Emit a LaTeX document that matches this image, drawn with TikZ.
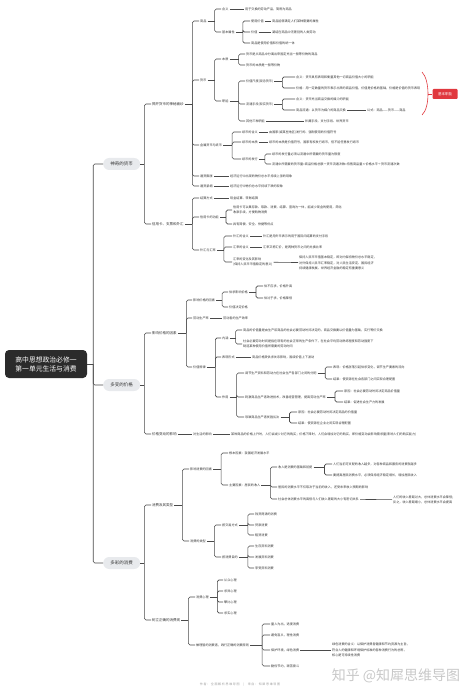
\documentclass[tikz,border=0pt]{standalone}
\usepackage{fontspec}
\setmainfont{Noto Sans CJK SC}
\definecolor{ink}{HTML}{333333}
\definecolor{wire}{HTML}{4A4A4A}
\definecolor{pill}{HTML}{E8EAED}
\definecolor{rootbg}{HTML}{2B2B2B}
\definecolor{tagred}{HTML}{E0383E}
\definecolor{mark}{HTML}{C8C8C8}
\newcommand\fs{\fontsize{3.1}{5.6}\selectfont}
\newcommand\fl{\fontsize{3.5}{5.6}\selectfont}

\tikzset{
  leaf/.style={anchor=west, inner sep=1pt, font=\fs, text=ink, align=left},
  sub/.style={leaf, font=\fl},
  topic/.style={anchor=west, fill=pill, rounded corners=6pt, minimum width=37pt,
    minimum height=12pt, inner sep=0pt, font=\fontsize{4.5}{5}\selectfont, text=ink},
  rootbox/.style={fill=rootbg, text=white, rounded corners=4pt, minimum width=82pt,
    minimum height=28pt, align=center, font=\fontsize{6.8}{9}\selectfont},
  link/.style={draw=wire, line width=0.6pt, rounded corners=1.6pt},
  redlink/.style={draw=tagred, line width=0.6pt},
  tag/.style={fill=tagred, text=white, rounded corners=1pt, minimum width=25pt,
    minimum height=10pt, inner sep=0pt, font=\fontsize{3.5}{4}\selectfont},
}

% parent -> fork -> children
\newcommand\fork[3]{%
  \draw[link] (#1.east) -- ++(#2,0) coordinate (#1f);
  \foreach \kid in {#3} {\draw[link] (#1f) |- (\kid.west);}
}

\begin{document}
\begin{tikzpicture}[x=1pt,y=-1pt]
\useasboundingbox (0,0) rectangle (474,692);

% root and topics
\node[rootbox] (root) at (46,364) {高中思想政治必修一\\第一单元生活与消费};
\node[topic] (money) at (103,164) {神奇的货币};
\node[topic] (price) at (103,385) {多变的价格};
\node[topic] (spend) at (103,563) {多彩的消费};
\fork{root}{6}{money,price,spend}

% ---------- 神奇的货币 ----------
\node[sub] (unveil) at (151,104) {揭开货币的神秘面纱};
\node[sub] (credit) at (151,224) {信用卡、支票和外汇};
\fork{money}{4}{unveil,credit}

\node[leaf] (goods) at (199,21) {商品};
\node[leaf] (coin) at (199,80) {货币};
\node[leaf] (paper) at (199,145) {金属货币与纸币};
\node[leaf] (infl) at (199,176) {通货膨胀};
\node[leaf] (defl) at (199,186) {通货紧缩};
\fork{unveil}{7.5}{goods,coin,paper,infl,defl}

\node[leaf] (gdef) at (221,9) {含义};
\node[leaf] (gdeftx) at (244,9) {用于交换的劳动产品，简称为商品};
\draw[link] (gdef) -- (gdeftx);
\node[leaf] (gattr) at (221,32) {基本属性};
\fork{goods}{7}{gdef,gattr}
\node[leaf] (guse) at (250,21) {使用价值};
\node[leaf] (gusetx) at (271,21) {商品能够满足人们某种需要的属性};
\draw[link] (guse) -- (gusetx);
\node[leaf] (gval) at (250,32) {价值};
\node[leaf] (gvaltx) at (271,32) {凝结在商品中无差别的人类劳动};
\draw[link] (gval) -- (gvaltx);
\node[leaf] (gunity) at (250,43) {商品是使用价值和价值的统一体};
\fork{gattr}{7}{guse,gval,gunity}

\node[leaf] (cess) at (221,59) {本质};
\node[leaf] (cfunc) at (221,101) {职能};
\fork{coin}{7}{cess,cfunc}
\node[leaf] (cess1) at (245,54) {货币是从商品中分离出来固定充当一般等价物的商品};
\node[leaf] (cess2) at (245,65) {货币的本质是一般等价物};
\fork{cess}{9}{cess1,cess2}
\node[leaf] (measure) at (245,81) {价值尺度(观念货币)};
\node[leaf] (medium) at (245,104) {流通手段(现实货币)};
\node[leaf] (others) at (245,121) {其他三种职能};
\node[leaf] (otherstx) at (304,121) {贮藏手段、支付手段、世界货币};
\draw[link] (others) -- (otherstx);
\fork{cfunc}{9}{measure,medium,others}
\node[leaf] (meas1) at (295,77) {含义：货币具有表现和衡量其他一切商品价值大小的职能};
\node[leaf] (meas2) at (295,88) {价格：用一定数量的货币表示出来的商品价值，价值是价格的基础，价格是价值的货币表现};
\fork{measure}{8}{meas1,meas2}
\node[leaf] (med1) at (295,99) {含义：货币充当商品交换的媒介的职能};
\node[leaf] (med2) at (295,110) {商品流通：以货币为媒介的商品交换};
\node[leaf] (formula) at (366,110) {公式：商品——货币——商品};
\draw[link] (med2) -- (formula);
\fork{medium}{8}{med1,med2}

% summary brace
\node[tag] (basic) at (445,94) {基本职能};
\draw[redlink] (422,72) .. controls (430,80) and (430,108) .. (422,115);
\coordinate (bracemid) at (428,94);
\draw[redlink] (bracemid) -- (basic.west);

\node[leaf] (pdef) at (241,132) {纸币的含义};
\node[leaf] (pdeftx) at (268,132) {由国家(或某些地区)发行的、强制使用的价值符号};
\draw[link] (pdef) -- (pdeftx);
\node[leaf] (pnat) at (241,142) {纸币的本质};
\node[leaf] (pnattx) at (268,142) {纸币的本质是价值符号，国家有权发行纸币，但不能任意发行纸币};
\draw[link] (pnat) -- (pnattx);
\node[leaf] (pissue) at (241,159) {纸币的发行};
\fork{paper}{9}{pdef,pnat,pissue}
\node[leaf] (piss1) at (271,154) {纸币的发行量必须以流通中所需要的货币量为限度};
\node[leaf] (piss2) at (271,164) {流通中所需要的货币量=商品价格总额÷货币流通次数=待售商品量×价格水平÷货币流通次数};
\fork{pissue}{6}{piss1,piss2}

\node[leaf] (infltx) at (229,176) {经济运行中出现的物价总水平持续上涨的现象};
\draw[link] (infl) -- (infltx);
\node[leaf] (defltx) at (229,186) {经济运行中物价总水平持续下跌的现象};
\draw[link] (defl) -- (defltx);

\node[leaf] (settle) at (199,198) {结算方式};
\node[leaf] (settletx) at (229,198) {现金结算、转账结算};
\draw[link] (settle) -- (settletx);
\node[leaf] (card) at (199,217) {信用卡的功能};
\node[leaf] (forex) at (199,250) {外汇与汇率};
\fork{credit}{7.5}{settle,card,forex}
\node[leaf] (card1) at (232,210) {信用卡可以集存款、取款、消费、结算、查询为一体，能减少现金的使用，简化\\收款手续，方便购物消费};
\node[leaf] (card2) at (232,224) {具有简便、安全、快捷等优点};
\fork{card}{6}{card1,card2}
\node[leaf] (fxdef) at (232,236) {外汇的含义};
\node[leaf] (fxdeftx) at (262,236) {外汇是用外币表示的用于国际间结算的支付手段};
\draw[link] (fxdef) -- (fxdeftx);
\node[leaf] (rate) at (232,247) {汇率的含义};
\node[leaf] (ratetx) at (262,247) {汇率又称汇价，是两种货币之间的兑换比率};
\draw[link] (rate) -- (ratetx);
\node[leaf] (ratechg) at (232,262) {汇率的变化及其影响\\(保持人民币币值稳定的意义)};
\node[leaf] (ratechgtx) at (298,263) {保持人民币币值基本稳定，即对内保持物价总水平稳定，\\对外保持人民币汇率稳定，对人民生活安定、国民经济\\持续健康发展、世界经济金融的稳定有重要意义};
\draw[link] (ratechg) -- (ratechgtx);
\fork{forex}{7}{fxdef,rate,ratechg}

% ---------- 多变的价格 ----------
\node[sub] (factor) at (151,333) {影响价格的因素};
\node[sub] (effect) at (151,434) {价格变动的影响};
\fork{price}{4}{factor,effect}

\node[leaf] (pfactor) at (192,300) {影响价格的因素};
\node[leaf] (prod) at (192,318) {劳动生产率};
\node[leaf] (prodtx) at (222,318) {劳动者的生产效率};
\draw[link] (prod) -- (prodtx);
\node[leaf] (law) at (192,367) {价值规律};
\fork{factor}{8.5}{pfactor,prod,law}

\node[leaf] (supply) at (228,292) {供求影响价格};
\node[leaf] (vdecide) at (228,307) {价值决定价格};
\fork{pfactor}{6}{supply,vdecide}
\node[leaf] (sup1) at (263,286) {供不应求，价格升高};
\node[leaf] (sup2) at (263,298) {供过于求，价格降低};
\fork{supply}{7}{sup1,sup2}

\node[leaf] (core) at (221,338) {内涵};
\node[leaf] (form) at (221,357) {表现形式};
\node[leaf] (formtx) at (251,357) {商品价格受供求关系影响，围绕价值上下波动};
\draw[link] (form) -- (formtx);
\node[leaf] (role) at (221,397) {作用};
\fork{law}{8.5}{core,form,role}
\node[leaf] (core1) at (242,330) {商品的价值量是由生产该商品的社会必要劳动时间决定的，商品交换要以价值量为基础，实行等价交换};
\node[leaf] (core2) at (242,344) {社会必要劳动时间是指在现有的社会正常的生产条件下，在社会平均劳动熟练程度和劳动强度下\\制造某种使用价值所需要的劳动时间};
\fork{core}{6}{core1,core2}
\node[leaf] (role1) at (244,373) {调节生产资料和劳动力在社会生产各部门之间的分配};
\node[leaf] (role2) at (244,397) {刺激商品生产者改进技术，改善经营管理，提高劳动生产率};
\node[leaf] (role3) at (244,417) {导致商品生产者优胜劣汰};
\fork{role}{7}{role1,role2,role3}
\node[leaf] (role11) at (332,367) {表现：价格涨落引起供求变化，调节生产要素的流向};
\node[leaf] (role12) at (332,379) {结果：使资源在社会各部门之间实现合理配置};
\fork{role1}{7.5}{role11,role12}
\node[leaf] (role21) at (343,391) {原因：社会必要劳动时间决定商品价值量};
\node[leaf] (role22) at (343,402) {结果：促进社会生产力的发展};
\fork{role2}{8}{role21,role22}
\node[leaf] (role31) at (297,412) {原因：社会必要劳动时间决定商品的价值量};
\node[leaf] (role32) at (297,423) {结果：使资源在企业之间实现合理配置};
\fork{role3}{9}{role31,role32}

\node[leaf] (life) at (192,434) {对生活的影响};
\draw[link] (effect) -- (life);
\node[leaf] (lifetx) at (230,434) {某种商品的价格上升时，人们会减少对它的购买；价格下降时，人们会增加对它的购买，即价格变动会影响需求量(影响人们的购买能力)};
\draw[link] (life) -- (lifetx);

% ---------- 多彩的消费 ----------
\node[sub] (types) at (151,505) {消费及其类型};
\node[sub] (view) at (151,620) {树立正确的消费观};
\fork{spend}{4}{types,view}

\node[leaf] (cfactor) at (189,469) {影响消费的因素};
\node[leaf] (ckind) at (189,541) {消费的类型};
\fork{types}{8}{cfactor,ckind}
\node[leaf] (root1) at (228,453) {根本因素：我国经济发展水平};
\node[leaf] (main) at (228,485) {主要因素：居民的收入};
\fork{cfactor}{8}{root1,main}
\node[leaf] (inc1) at (277,467) {收入是消费的基础和前提};
\node[leaf] (inc2) at (277,487) {居民的消费水平不仅取决于当前的收入，还受未来收入预期的影响};
\node[leaf] (inc3) at (277,499) {社会总体消费水平的高低与人们收入差距的大小有密切关系};
\fork{main}{9}{inc1,inc2,inc3}
\node[leaf] (inc11) at (332,464) {人们当前可支配的收入越多，对各种商品和服务的消费就越多};
\node[leaf] (inc12) at (332,475) {要提高居民消费水平，必须保持经济稳定增长，增加居民收入};
\fork{inc1}{11}{inc11,inc12}
\node[leaf] (inc3tx) at (392,500) {人们的收入差距过大，总体消费水平会降低；\\反之，收入差距缩小，总体消费水平会提高};
\draw[link] (inc3) -- (inc3tx);

\node[leaf] (bydeal) at (221,525) {按交易方式};
\node[leaf] (byaim) at (221,557) {按消费目的};
\fork{ckind}{7.5}{bydeal,byaim}
\node[leaf] (deal1) at (254,514) {钱货两清的消费};
\node[leaf] (deal2) at (254,525) {贷款消费};
\node[leaf] (deal3) at (254,535) {租赁消费};
\fork{bydeal}{9}{deal1,deal2,deal3}
\node[leaf] (aim1) at (254,546) {生存资料消费};
\node[leaf] (aim2) at (254,557) {发展资料消费};
\node[leaf] (aim3) at (254,568) {享受资料消费};
\fork{byaim}{9}{aim1,aim2,aim3}

\node[leaf] (mind) at (195,597) {消费心理};
\node[leaf] (wise) at (195,645) {做理智的消费者，践行正确的消费原则};
\fork{view}{7}{mind,wise}
\node[leaf] (mind1) at (223,580) {从众心理};
\node[leaf] (mind2) at (223,591) {求异心理};
\node[leaf] (mind3) at (223,602) {攀比心理};
\node[leaf] (mind4) at (223,613) {求实心理};
\fork{mind}{7.5}{mind1,mind2,mind3,mind4}
\node[leaf] (wise1) at (270,624) {量入为出，适度消费};
\node[leaf] (wise2) at (270,635) {避免盲从，理性消费};
\node[leaf] (wise3) at (270,650) {保护环境，绿色消费};
\node[leaf] (wise4) at (270,666) {勤俭节约，艰苦奋斗};
\fork{wise}{12}{wise1,wise2,wise3,wise4}
\node[leaf] (green) at (331,650) {绿色消费的含义：以保护消费者健康和节约资源为主旨，\\符合人的健康和环境保护标准的各种消费行为的总称，\\核心是可持续性消费};
\draw[link] (wise3) -- (green);

% watermark and footer
\node[text=mark, font=\fontsize{14}{14}\selectfont] (brand) at (396,676) {知乎 @知犀思维导图};
\node[text=mark!80!black, font=\fontsize{3}{3}\selectfont] (footer) at (240,685) {作 者 ： 全 面 解 析 思 维 导 图 \quad | \quad 来 自 ： 知 犀 思 维 导 图};
\end{tikzpicture}
\end{document}
